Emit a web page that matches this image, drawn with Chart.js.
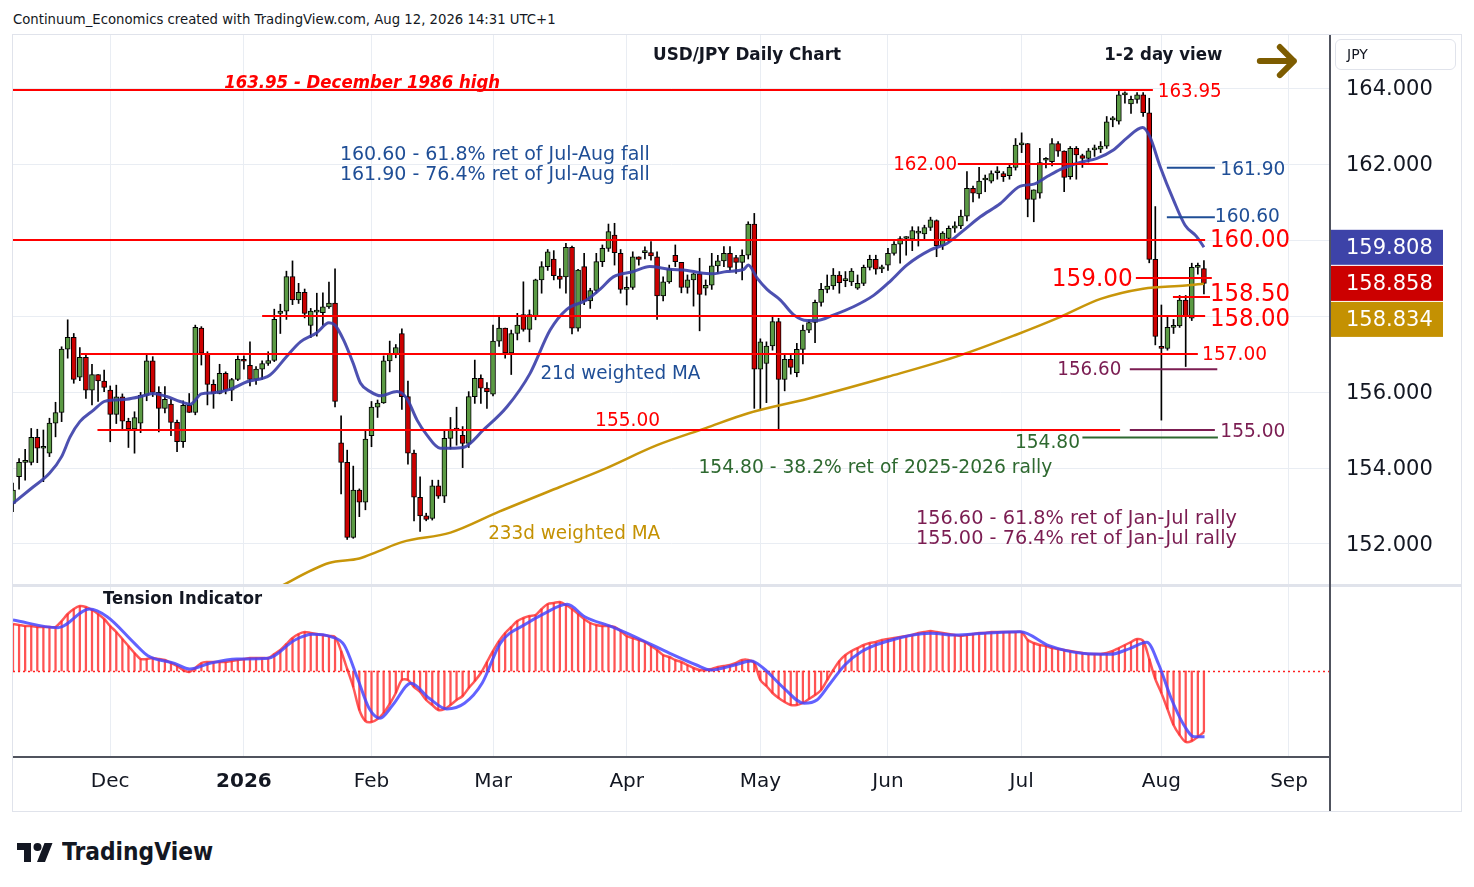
<!DOCTYPE html>
<html>
<head>
<meta charset="utf-8">
<title>USD/JPY Daily Chart</title>
<script src="https://cdn.jsdelivr.net/npm/chart.js@4.4.1/dist/chart.umd.min.js"></script>
<style>
  body { margin: 0; background: #fff; width: 1474px; height: 887px; position: relative; overflow: hidden;
         font-family: "DejaVu Sans", sans-serif; color: #131722; }
  .abs { position: absolute; }
</style>
</head>
<body>
<div id="hdr" class="abs" style="left:13px;top:11px;font-size:14px;white-space:nowrap;transform-origin:0 0">Continuum_Economics created with TradingView.com, Aug 12, 2026 14:31 UTC+1</div>
<div class="abs" style="left:12px;top:34px;width:1448px;height:776px;border:1px solid #e0e3eb"></div>
<canvas id="main" class="abs" width="1447" height="550" style="left:13px;top:35px"></canvas>
<canvas id="osc" class="abs" width="1447" height="224" style="left:13px;top:586px"></canvas>
<div class="abs" style="left:13px;top:584px;width:1448px;height:3px;background:#e0e3eb"></div>
<div class="abs" style="left:1329px;top:35px;width:2px;height:776px;background:#50535e"></div>
<div class="abs" style="left:13px;top:756px;width:1317px;height:2px;background:#50535e"></div>
<div class="abs" style="left:1335px;top:39px;width:121px;height:31px;border:1px solid #e0e3eb;border-radius:6px;box-sizing:border-box;font-size:14px;line-height:29px;padding-left:11px">JPY</div>
<div class="abs" style="left:17px;top:837px;display:flex;align-items:center">
  <svg width="36" height="26" viewBox="0 0 36 26"><path d="M14 23H7V11H0V4h14v19zM28 23h-8l7.5-19h8L28 23z" fill="#131722"/><circle cx="20.5" cy="8" r="4" fill="#131722"/></svg>
  <span id="tv" style="margin-left:9px;font-weight:bold;font-size:25px;white-space:nowrap;display:inline-block;transform-origin:0 50%">TradingView</span>
</div>

<script>
// ---- candles (one per trading day, index 0 = first visible bar) ----
const opens = [153.07,153.77,154.15,154.15,154.81,154.52,154.39,155.18,155.46,157.13,
157.44,156.39,156.91,156.05,156.46,156.29,156.05,155.41,155.87,155.23,
155.03,155.18,155.91,156.82,155.99,155.57,155.68,155.20,154.69,155.65,
155.46,157.68,157.02,156.20,155.96,156.49,156.05,156.33,156.86,156.70,
156.33,156.60,156.75,156.83,158.07,158.13,159.04,158.42,158.62,157.75,
158.10,158.09,158.24,158.34,154.66,154.15,152.17,153.42,153.10,154.85,
155.60,155.71,156.82,157.00,157.54,155.88,154.39,153.23,152.74,152.67,
153.53,153.26,154.78,155.05,154.86,154.65,155.88,156.36,156.10,155.94,
157.34,157.68,157.03,157.54,158.04,157.65,158.00,158.95,159.30,159.50,
159.05,159.03,159.81,157.68,159.30,158.40,158.67,159.43,159.78,160.13,
159.65,158.70,158.75,159.56,159.67,159.67,159.56,158.53,158.90,159.60,
159.41,158.75,158.95,159.11,158.73,158.81,159.32,159.45,159.65,159.54,
159.41,159.60,160.42,156.60,156.75,157.21,157.85,156.33,156.86,156.51,
157.12,157.63,157.83,158.36,158.70,158.79,159.08,158.93,158.90,158.73,
158.86,159.28,159.49,159.24,159.34,159.65,159.89,160.04,160.02,160.18,
160.16,160.33,160.51,159.85,160.04,160.31,160.37,160.63,161.36,161.21,
161.58,161.55,161.77,161.75,161.69,161.91,162.50,162.54,161.07,161.23,
162.10,162.06,162.54,162.34,161.67,162.41,162.22,162.15,162.37,162.39,
162.47,163.16,163.13,163.82,163.58,163.70,163.82,163.35,159.49,157.18,
157.15,157.70,157.74,158.42,157.94,159.28,159.25];
const highs = [153.60,154.25,154.49,155.04,155.02,155.00,155.31,155.73,157.19,157.90,
157.54,157.17,156.97,156.73,156.46,156.58,156.16,156.18,155.95,155.31,
155.48,155.99,156.97,156.93,156.14,156.14,155.81,155.26,155.77,155.96,
157.76,157.72,157.06,156.32,156.73,156.53,156.36,156.95,156.95,157.32,
156.67,156.82,157.06,158.18,158.31,159.18,159.45,158.86,158.71,158.20,
158.60,158.61,158.89,159.24,155.37,154.47,154.05,153.45,155.00,155.75,
155.79,156.95,157.34,157.25,157.66,156.29,154.47,153.77,152.81,153.68,
153.68,155.00,155.33,155.60,155.09,156.01,156.84,156.45,156.25,157.76,
157.98,157.68,157.63,158.07,158.90,158.16,158.97,159.43,159.75,159.72,
159.25,159.91,159.84,159.23,159.65,158.73,159.65,159.87,160.42,160.44,
159.75,159.03,159.69,159.56,159.82,159.96,159.69,159.03,159.34,159.87,
159.41,159.08,159.12,159.52,158.95,159.65,159.60,159.83,159.83,159.60,
159.74,160.48,160.70,157.40,157.32,157.98,157.94,156.97,156.97,157.28,
157.76,157.89,158.42,158.86,159.08,159.25,159.17,159.17,159.25,159.08,
159.34,159.60,159.60,159.34,159.78,159.96,160.09,160.09,160.35,160.35,
160.39,160.60,160.53,160.22,160.37,160.48,160.79,161.80,161.42,161.91,
161.71,161.82,161.93,161.80,161.97,162.67,162.82,162.54,161.32,162.41,
162.17,162.67,162.59,162.35,162.46,162.46,162.26,162.41,162.50,162.59,
163.25,163.25,163.95,163.90,163.79,163.88,163.88,163.73,160.88,158.29,
157.98,157.91,158.54,158.54,159.39,159.39,159.46];
const lows = [152.85,153.44,153.68,154.08,154.14,153.64,154.30,154.82,155.22,156.89,
156.23,156.30,155.83,155.66,155.75,156.01,154.69,155.17,155.01,154.54,
154.39,154.93,155.77,155.88,154.95,155.45,154.85,154.43,154.54,155.46,
155.40,156.71,155.66,155.57,155.95,155.95,155.77,156.30,156.60,156.16,
156.20,156.33,156.70,156.80,157.54,157.91,158.30,158.33,157.95,157.43,
157.47,157.75,158.20,155.61,153.32,152.12,152.15,152.72,152.90,154.56,
155.33,155.70,156.53,156.90,155.54,154.10,152.61,152.33,152.61,152.63,
153.20,153.09,154.50,154.60,154.01,154.54,155.70,155.70,155.57,155.90,
157.20,156.89,156.46,157.37,157.60,157.32,157.90,158.60,159.20,158.95,
158.73,158.60,157.53,157.60,158.30,158.20,158.60,159.30,159.70,159.34,
158.60,158.29,158.70,159.34,159.50,159.47,157.91,158.40,158.86,159.30,
158.61,158.60,158.26,157.61,158.55,158.70,159.12,159.30,159.20,159.12,
158.95,159.50,155.57,155.53,155.72,157.10,155.00,156.03,156.47,156.40,
156.74,157.56,157.30,158.26,158.61,158.70,158.60,158.77,158.80,158.70,
158.80,159.21,159.10,159.14,159.20,159.60,159.39,159.60,159.72,159.84,
160.00,160.25,159.56,159.75,159.95,160.20,160.30,160.50,161.00,161.10,
161.27,161.50,161.60,161.54,161.60,161.84,162.30,160.61,160.48,161.10,
161.90,161.95,162.20,161.27,161.60,161.60,161.91,162.05,162.20,162.30,
162.41,162.98,163.05,163.60,163.33,163.60,163.25,159.40,157.24,155.26,
157.10,157.54,157.70,156.67,157.88,159.10,158.58];
const closes = [153.42,154.15,154.15,154.81,154.52,154.52,155.18,155.46,157.13,157.44,
156.33,156.91,156.05,156.46,156.29,156.12,155.41,155.87,155.23,155.03,
155.33,155.91,156.82,155.99,155.57,155.81,155.20,154.69,155.65,155.46,
157.70,157.02,156.20,155.96,156.49,156.05,156.33,156.86,156.81,156.33,
156.60,156.75,156.83,157.91,158.13,159.04,158.42,158.62,158.07,158.13,
158.10,158.24,158.34,155.75,154.15,152.17,153.42,153.10,154.76,155.60,
155.71,156.82,157.00,157.17,155.88,154.39,153.23,152.74,152.65,153.53,
153.26,154.78,155.00,155.00,154.65,155.88,156.36,156.10,156.01,157.34,
157.68,157.03,157.54,157.76,157.65,158.04,158.95,159.30,159.69,159.06,
158.96,159.81,157.68,159.21,158.40,158.67,159.43,159.78,160.22,159.67,
158.70,158.75,159.56,159.49,159.67,159.58,158.53,158.90,159.24,159.43,
158.75,158.95,159.11,158.57,158.81,159.32,159.45,159.65,159.28,159.41,
159.60,160.42,156.60,157.32,157.21,157.85,156.33,156.86,156.65,157.12,
157.63,157.83,158.36,158.70,158.79,159.08,158.88,158.93,159.18,158.86,
159.28,159.49,159.23,159.24,159.65,159.89,160.04,160.04,160.25,160.18,
160.33,160.53,159.85,160.18,160.31,160.37,160.63,161.36,161.23,161.55,
161.58,161.75,161.77,161.67,161.91,162.50,162.56,161.07,161.32,162.04,
162.10,162.54,162.34,161.65,162.41,162.24,162.15,162.35,162.37,162.47,
163.11,163.16,163.82,163.82,163.70,163.82,163.35,159.49,157.46,157.15,
157.70,157.74,158.42,158.00,159.28,159.28,158.86];

// ---- moving averages at these bar positions ----
const wma21Idx = [0,3,6,8,9.4,11,13.3,15,16.5,18.7,21,23,25.3,27.5,29.2,31,33,35.7,38.5,42.3,45,47.3,50,52,53,
  54.4,56,57.2,58.8,60.5,63.2,64.8,66.5,68.1,70.3,72,74.1,77.4,81.3,85.1,88.4,91.1,94.4,96.6,98.8,102.1,104.8,
  108,111,113,115,117.5,120.3,121,122.5,124.1,126.3,128.5,130.7,132.3,135.1,138.4,141.7,144.4,147.1,151,153.7,
  156.5,159.2,162.5,165.8,168,170.2,172.4,175.6,178.4,181.1,183.3,185.9,187.1,188.8,191,192.9,194.8,196];
const wma21Val = [153.07,153.46,153.86,154.3,154.82,155.22,155.53,155.75,155.79,155.81,155.88,155.96,155.88,155.75,
  155.68,155.95,155.98,156.07,156.27,156.45,156.93,157.32,157.56,157.82,157.76,157.37,156.75,156.23,156.01,155.9,
  156.01,155.83,155.26,154.87,154.52,154.52,154.54,155.0,155.61,156.49,157.63,158.17,158.42,158.7,159.03,159.17,
  159.3,159.23,159.2,159.14,159.11,159.17,159.23,159.34,158.99,158.7,158.42,158.03,157.88,157.88,158.03,158.25,
  158.55,158.92,159.34,159.74,159.91,160.26,160.61,160.96,161.42,161.47,161.67,161.86,162.04,162.15,162.37,162.68,
  162.96,162.72,161.93,161.05,160.39,160.09,159.81];
const wma233Idx = [43,52,57,60,64,72,80,90,97,106,114,121,131,144,156,165,172,179,186,193,196];
const wma233Val = [150.8,151.5,151.62,151.8,152.05,152.3,152.85,153.5,153.95,154.6,155.05,155.44,155.83,156.4,
  156.97,157.5,157.95,158.45,158.72,158.8,158.85];

// ---- horizontal levels ----
const levelPrice = [163.95,162.00,160.00,159.00,158.50,158.00,157.00,155.00,161.90,160.60,156.60,155.00,154.80];
const levelFrom  = [0,155.5,0,184.8,190.9,41,11.1,13.9,189.9,189.9,183.8,183.8,176];
const levelTo    = [187.6,180.2,196.2,197.3,197,196.2,195,182.2,197.8,197.8,198.2,197.8,198.3];
const levelKind  = ['r','r','r','r','r','r','r','r','b','b','p','p','g'];

// ---- tension indicator ----
const tension = [47,46,45,45,44,44,44,44,50,57,
62,65,64,61,57,52,45,39,32,25,
18,12,12,13,12,11,8,5,1,-1,
3,8,9,9,9,9,10,11,12,13,
13,13,13,17,21,27,33,37,39,38,
37,36,35,34,20,2,-16,-39,-50,-51,
-48,-42,-33,-22,-9,-9,-16,-21,-29,-34,
-39,-38,-34,-29,-25,-17,-10,-2,9,20,
30,38,44,50,53,55,56,62,67,68,
69,66,62,57,52,48,46,45,45,44,
40,35,33,31,29,25,21,16,14,11,
9,6,3,1,1,2,4,5,6,8,
11,11,8,-9,-15,-22,-27,-31,-34,-34,
-32,-28,-24,-19,-9,1,10,16,20,23,
26,28,29,31,32,33,34,35,36,38,
39,40,39,38,37,36,35,36,37,38,
38,39,39,39,39,39,39,31,28,26,
25,23,22,21,20,19,18,17,17,17,
18,20,23,26,29,32,30,12,-8,-22,
-38,-54,-64,-71,-70,-66,-61];
const signalIdx = [0,7.4,12.6,15.5,20,22.2,26.6,29.1,32.4,36.8,42,46.4,49.3,52.3,54.5,56.7,58.6,60.4,62.5,65.5,
  68.5,71.4,74.3,77.2,80.2,84.6,87.5,91.2,94.1,98.5,102.9,108.1,112.5,114.8,118.8,121.5,123.5,126.9,130.2,132.3,
  134.3,136.9,139.6,143.6,151.1,155.1,159.8,165.8,170.5,175.9,180.6,183.9,186.6,188.6,190.6,192.7,194.4,196.1];
const signalVal = [51,43.3,62,54.3,27.7,15.3,7.7,2,7.7,12,12.7,31,36.7,34.3,26,-7.3,-37.3,-47.3,-34,-12.3,
  -27.3,-38,-32.3,-12.3,27.7,47.7,57.7,66.7,54.3,44.3,32.7,17.7,6,1,6,10,2.7,-17.3,-32.3,-29,
  -14,6,19.3,29.3,37.7,36,37.7,39.3,25.3,17.7,16.7,22.7,28.7,6,-27.3,-54,-65.7,-65.7];

// ---- axes ----
const monthTickIdx = [16,38,59,79,101,123,144,166,189,210];
const monthTickLabels = ['Dec','2026','Feb','Mar','Apr','May','Jun','Jul','Aug','Sep'];
const priceTicks = [152,154,156,158,160,162,164];
const lastValues = [159.808, 158.858, 158.834];

const FONT = '"DejaVu Sans"';
Chart.defaults.font.family = FONT;
const UP = '#5b9a44', DOWN = '#cc0000';
const RED = '#ff0000', BLUE = '#1f4e96', PURPLE = '#7b1d52', GREEN = '#2e6930', GOLD = '#c49102';
const kindColor = { r: RED, b: BLUE, p: PURPLE, g: GREEN };
const GRID = '#e9edf3';
const X_MAX = 216.75;

const notes = [
  { t: 'USD/JPY Daily Chart', i: 120.8, p: 164.92, w: 188, size: 18, bold: true, color: '#131722', align: 'center' },
  { t: '1-2 day view', i: 179.6, p: 164.92, w: 118, size: 18, bold: true, color: '#131722' },
  { t: '163.95 - December 1986 high', i: 34.75, p: 164.18, w: 276, size: 18, bold: true, italic: true, color: RED },
  { t: '163.95', i: 188.4, p: 163.95, w: 64, size: 19, color: RED },
  { t: '162.00', i: 155.4, p: 162.03, w: 64, size: 19, color: RED, align: 'right' },
  { t: '160.00', i: 197.0, p: 160.05, w: 80, size: 25, color: RED },
  { t: '159.00', i: 184.3, p: 159.02, w: 81, size: 25, color: RED, align: 'right' },
  { t: '158.50', i: 197.0, p: 158.61, w: 80, size: 25, color: RED },
  { t: '158.00', i: 197.0, p: 157.95, w: 80, size: 25, color: RED },
  { t: '157.00', i: 195.7, p: 157.03, w: 65, size: 19, color: RED },
  { t: '155.00', i: 95.8, p: 155.29, w: 65, size: 19, color: RED },
  { t: '161.90', i: 198.7, p: 161.90, w: 65, size: 19, color: BLUE },
  { t: '160.60', i: 197.8, p: 160.66, w: 65, size: 19, color: BLUE },
  { t: '156.60', i: 182.4, p: 156.63, w: 64, size: 19, color: PURPLE, align: 'right' },
  { t: '155.00', i: 198.7, p: 155.00, w: 65, size: 19, color: PURPLE },
  { t: '154.80', i: 175.6, p: 154.71, w: 65, size: 19, color: GREEN, align: 'right' },
  { t: '160.60 - 61.8% ret of Jul-Aug fall', i: 53.8, p: 162.29, w: 310, size: 19, color: BLUE },
  { t: '161.90 - 76.4% ret of Jul-Aug fall', i: 53.8, p: 161.76, w: 310, size: 19, color: BLUE },
  { t: '21d weighted MA', i: 86.8, p: 156.53, w: 160, size: 19, color: BLUE },
  { t: '233d weighted MA', i: 78.2, p: 152.32, w: 172, size: 19, color: GOLD },
  { t: '154.80 - 38.2% ret of 2025-2026 rally', i: 112.8, p: 154.05, w: 354, size: 19, color: GREEN },
  { t: '156.60 - 61.8% ret of Jan-Jul rally', i: 148.6, p: 152.71, w: 321, size: 19, color: PURPLE },
  { t: '155.00 - 76.4% ret of Jan-Jul rally', i: 148.6, p: 152.18, w: 321, size: 19, color: PURPLE }
];

function fitText(ctx, text, x, y, w, font, color, align) {
  ctx.save();
  ctx.font = font;
  ctx.fillStyle = color;
  ctx.textBaseline = 'middle';
  ctx.textAlign = 'left';
  const m = ctx.measureText(text).width;
  const left = align === 'right' ? x - w : align === 'center' ? x - w / 2 : x;
  ctx.translate(left, y + 2);
  ctx.scale(w / m, 1);
  ctx.fillText(text, 0, 0);
  ctx.restore();
}
const noteFont = n => `${n.italic ? 'italic ' : ''}${n.bold ? 'bold ' : ''}${n.size}px ${FONT}`;

const monthTicks = s => { s.ticks = monthTickIdx.map(v => ({ value: v })); };

// ---------- price pane ----------
const mainDecor = {
  id: 'mainDecor',
  afterDatasetsDraw(chart) {
    const { ctx, scales: { x, y } } = chart;
    notes.forEach(n => fitText(ctx, n.t, x.getPixelForValue(n.i), y.getPixelForValue(n.p), n.w, noteFont(n), n.color, n.align));
    // direction arrow
    const ax0 = x.getPixelForValue(205.2), ax1 = x.getPixelForValue(210.8), ay = y.getPixelForValue(164.71);
    ctx.save();
    ctx.strokeStyle = '#7d5c00';
    ctx.lineWidth = 6;
    ctx.lineCap = 'round';
    ctx.lineJoin = 'round';
    ctx.beginPath();
    ctx.moveTo(ax0, ay); ctx.lineTo(ax1, ay);
    ctx.moveTo(ax1 - 14, ay - 14); ctx.lineTo(ax1, ay); ctx.lineTo(ax1 - 14, ay + 14);
    ctx.stroke();
    ctx.restore();
  },
  afterDraw(chart) {
    const { ctx, chartArea, scales: { y } } = chart;
    const colors = ['#3d43a8', '#cc0000', '#c49102'];
    let prevBottom = -1e9;
    lastValues.forEach((v, k) => {
      const top = Math.max(y.getPixelForValue(v) - 17.5, prevBottom + 1);
      ctx.fillStyle = colors[k];
      ctx.fillRect(chartArea.right + 1, top, 112, 35);
      ctx.fillStyle = '#fff';
      ctx.font = `21px ${FONT}`;
      ctx.textBaseline = 'middle';
      ctx.textAlign = 'left';
      ctx.fillText(v.toFixed(3), chartArea.right + 16, top + 19);
      prevBottom = top + 35;
    });
  }
};

const levelSets = levelPrice.map((p, k) => ({
  type: 'line',
  data: [{ x: levelFrom[k], y: p }, { x: levelTo[k], y: p }],
  borderColor: kindColor[levelKind[k]],
  borderWidth: 2,
  pointRadius: 0,
  order: 0
}));

new Chart(document.getElementById('main'), {
  type: 'bar',
  data: {
    datasets: [
      ...levelSets,
      {
        type: 'line', data: wma21Idx.map((v, k) => ({ x: v, y: wma21Val[k] })),
        borderColor: 'rgba(58,62,168,0.9)', borderWidth: 3, pointRadius: 0,
        cubicInterpolationMode: 'monotone', order: 1
      },
      {
        type: 'line', data: wma233Idx.map((v, k) => ({ x: v, y: wma233Val[k] })),
        borderColor: '#c8960a', borderWidth: 2.5, pointRadius: 0,
        cubicInterpolationMode: 'monotone', order: 1
      },
      {
        data: opens.map((o, k) => ({ x: k, y: [o, closes[k]] })),
        backgroundColor: closes.map((c, k) => c >= opens[k] ? UP : DOWN),
        borderColor: '#000', borderWidth: 1, borderSkipped: false,
        barThickness: 5, minBarLength: 2, grouped: false, order: 2
      },
      {
        data: lows.map((l, k) => ({ x: k, y: [l, highs[k]] })),
        backgroundColor: '#000', barThickness: 1, grouped: false, order: 3
      }
    ]
  },
  options: {
    responsive: false,
    animation: false,
    layout: { padding: 0 },
    plugins: { legend: { display: false }, tooltip: { enabled: false } },
    scales: {
      x: {
        type: 'linear', min: 0, max: X_MAX, offset: false,
        afterBuildTicks: monthTicks,
        afterFit: s => { s.height = 0; s.paddingLeft = 0; s.paddingRight = 0; },
        ticks: { display: false },
        grid: { color: GRID, drawTicks: false, offset: false },
        border: { display: false }
      },
      y: {
        position: 'right', min: 150.921, max: 165.395,
        afterBuildTicks: s => { s.ticks = priceTicks.map(v => ({ value: v })); },
        afterFit: s => { s.width = 130; s.paddingTop = 0; s.paddingBottom = 0; },
        ticks: {
          padding: 16, labelOffset: 2, color: '#131722', font: { family: FONT, size: 21 },
          // labels hidden behind the last-value boxes are left out
          callback: v => lastValues.some(l => Math.abs(l - v) < 1) ? '' : v.toFixed(3)
        },
        grid: { color: GRID, drawTicks: false },
        border: { display: false }
      }
    }
  },
  plugins: [mainDecor]
});

// ---------- tension indicator pane ----------
const oscDecor = {
  id: 'oscDecor',
  beforeDatasetsDraw(chart) {
    const { ctx, chartArea, scales: { y } } = chart;
    const y0 = Math.round(y.getPixelForValue(0)) + 0.5;
    ctx.save();
    ctx.strokeStyle = '#ff2020';
    ctx.lineWidth = 1.5;
    ctx.setLineDash([2, 3]);
    ctx.beginPath();
    ctx.moveTo(chartArea.left, y0);
    ctx.lineTo(chartArea.right, y0);
    ctx.stroke();
    ctx.restore();
  },
  afterDraw(chart) {
    fitText(chart.ctx, 'Tension Indicator', 90, 12, 159, `bold 17px ${FONT}`, '#131722', 'left');
  }
};

new Chart(document.getElementById('osc'), {
  type: 'bar',
  data: {
    datasets: [
      {
        type: 'line', data: signalIdx.map((v, k) => ({ x: v, y: signalVal[k] })),
        borderColor: 'rgba(70,70,255,0.85)', borderWidth: 3, pointRadius: 0,
        cubicInterpolationMode: 'monotone', order: 0
      },
      {
        type: 'line', data: tension.map((v, k) => ({ x: k, y: v })),
        borderColor: 'rgba(255,45,45,0.8)', borderWidth: 2.5, pointRadius: 0,
        tension: 0.3, order: 1
      },
      {
        data: tension.map((v, k) => ({ x: k, y: v })),
        backgroundColor: 'rgba(255,40,40,0.8)', barThickness: 1.6, grouped: false, order: 2
      }
    ]
  },
  options: {
    responsive: false,
    animation: false,
    layout: { padding: { right: 130 } },
    plugins: { legend: { display: false }, tooltip: { enabled: false } },
    scales: {
      x: {
        type: 'linear', min: 0, max: X_MAX, offset: false,
        afterBuildTicks: monthTicks,
        afterFit: s => { s.height = 53; },
        ticks: {
          padding: 13, color: '#131722', autoSkip: false, maxRotation: 0,
          font: c => ({ family: FONT, size: 20, weight: c.index === 1 ? 'bold' : 'normal' }),
          callback: (v, idx) => monthTickLabels[idx]
        },
        grid: { color: GRID, drawTicks: false, offset: false },
        border: { display: false }
      },
      y: { display: false, min: -86, max: 85 }
    }
  },
  plugins: [oscDecor]
});

// header / logo text widths
const hdr = document.getElementById('hdr');
hdr.style.transform = `scaleX(${543 / hdr.offsetWidth})`;
const tv = document.getElementById('tv');
tv.style.transform = `scaleX(${151 / tv.offsetWidth})`;
</script>
</body>
</html>
